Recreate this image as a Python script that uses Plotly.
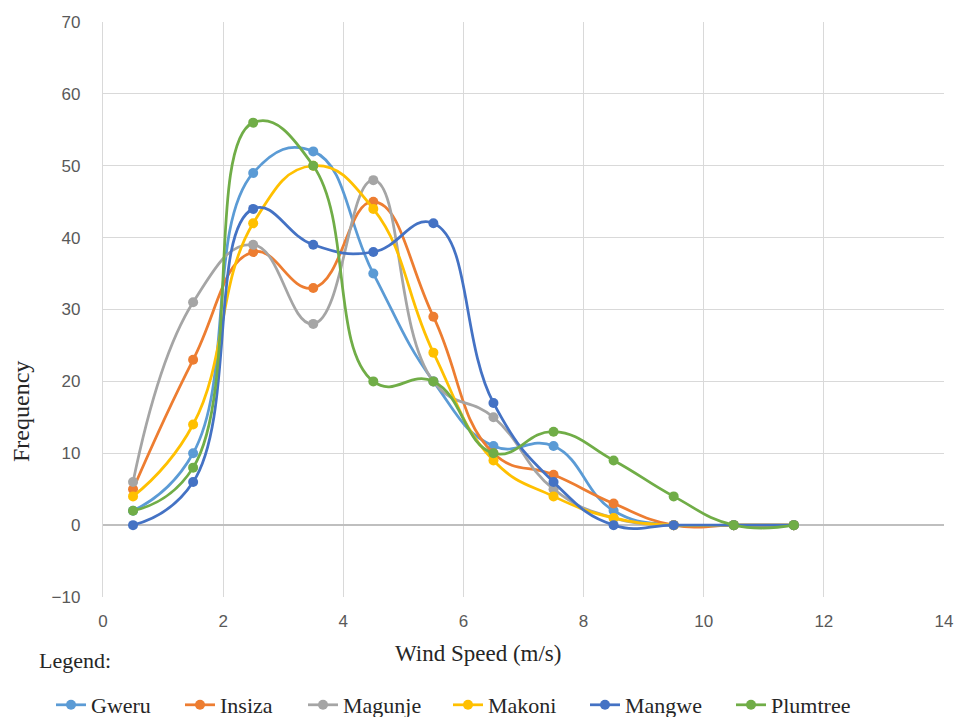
import plotly.graph_objects as go

wind_speed = [0.5, 1.5, 2.5, 3.5, 4.5, 5.5, 6.5, 7.5, 8.5, 9.5, 10.5, 11.5]
gweru = [2, 10, 49, 52, 35, 20, 11, 11, 2, 0, 0, 0]
insiza = [5, 23, 38, 33, 45, 29, 10, 7, 3, 0, 0, 0]
magunje = [6, 31, 39, 28, 48, 20, 15, 5, 1, 0, 0, 0]
makoni = [4, 14, 42, 50, 44, 24, 9, 4, 1, 0, 0, 0]
mangwe = [0, 6, 44, 39, 38, 42, 17, 6, 0, 0, 0, 0]
plumtree = [2, 8, 56, 50, 20, 20, 10, 13, 9, 4, 0, 0]

series = [
    ("Gweru", gweru, "#5B9BD5"),
    ("Insiza", insiza, "#ED7D31"),
    ("Magunje", magunje, "#A5A5A5"),
    ("Makoni", makoni, "#FFC000"),
    ("Mangwe", mangwe, "#4472C4"),
    ("Plumtree", plumtree, "#70AD47"),
]
# left edge (px) of each legend label text in the reference
legend_text_x = [93, 222, 345, 490, 627, 773]

W, H = 957, 717
L, R, T, B = 103, 944, 22, 597  # plot area in pixels

serif = "Liberation Serif, Times New Roman, serif"
sans = "Liberation Sans, Arial, sans-serif"

fig = go.Figure()
layout_legends = {}
for i, (name, vals, col) in enumerate(series):
    lg = "legend" if i == 0 else f"legend{i + 1}"
    fig.add_trace(go.Scatter(
        x=wind_speed, y=vals, name=name, mode="lines+markers",
        line=dict(color=col, width=2.75, shape="spline", smoothing=1.3),
        marker=dict(color=col, size=10),
        legend=lg,
    ))
    layout_legends[lg] = dict(
        orientation="h", xref="container", yref="container",
        x=(legend_text_x[i] - 42) / W, y=1 - 705 / H,
        xanchor="left", yanchor="middle",
        font=dict(family=serif, size=22, color="#262626"),
        bgcolor="rgba(0,0,0,0)", borderwidth=0,
    )

fig.update_layout(
    width=W, height=H,
    paper_bgcolor="white", plot_bgcolor="white",
    margin=dict(l=L, r=W - R, t=T, b=H - B, autoexpand=False),
    font=dict(family=serif, size=16, color="#595959"),
    showlegend=True,
    annotations=[
        dict(text="Legend:", xref="paper", yref="paper",
             x=(37 - L) / (R - L), y=(B - 660) / (B - T),
             xanchor="left", yanchor="middle", showarrow=False,
             font=dict(family=serif, size=22, color="#262626")),
        dict(text="Wind Speed (m/s)", xref="paper", yref="paper",
             x=(478 - L) / (R - L), y=(B - 653) / (B - T),
             xanchor="center", yanchor="middle", showarrow=False,
             font=dict(family=serif, size=23, color="#262626")),
        dict(text="Frequency", xref="paper", yref="paper", textangle=-90,
             x=(21 - L) / (R - L), y=(B - 412) / (B - T),
             xanchor="center", yanchor="middle", showarrow=False,
             font=dict(family=serif, size=24, color="#262626")),
    ],
    **layout_legends,
)
fig.update_xaxes(
    range=[0, 14], dtick=2, tick0=0,
    showgrid=True, gridcolor="#D9D9D9", gridwidth=1.3,
    zeroline=False, showline=False, ticks="",
    ticklabelstandoff=12, automargin=False,
    tickfont=dict(family=sans, size=17, color="#595959"),
)
fig.update_yaxes(
    range=[-10, 70], dtick=10, tick0=0,
    showgrid=True, gridcolor="#D9D9D9", gridwidth=1.3,
    zeroline=True, zerolinecolor="#BFBFBF", zerolinewidth=1.5,
    showline=True, linecolor="#D9D9D9", linewidth=1.3, ticks="",
    ticklabelstandoff=18, automargin=False,
    tickfont=dict(family=sans, size=17, color="#595959"),
)

fig.write_html("out.html", config={"displayModeBar": False},
               post_script="document.body.style.margin='0';")
